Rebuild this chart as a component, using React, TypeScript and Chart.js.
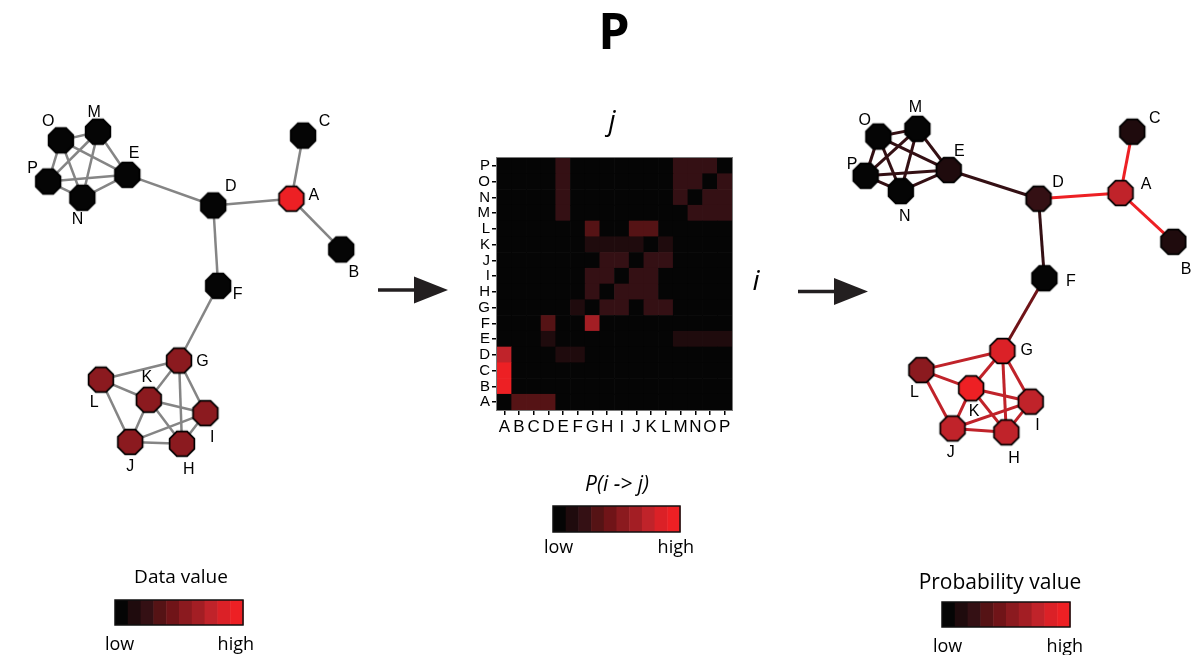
import React, { useEffect, useRef } from 'react';
import { Chart, registerables } from 'chart.js';
Chart.register(...registerables);

const nodeNames = ['A','B','C','D','E','F','G','H','I','J','K','L','M','N','O','P'];
const leftX = [284,335,296,204,116,209,169,172,196,119,138,89,86,70,48,35];
const leftY = [193,246,127,200,168,284,362,449,417,447,403,382,123,192,132,175];
const rightX = [1133,1187,1145,1049,957,1055,1012,1016,1041,961,980,929,925,908,885,872];
const rightY = [187,238,123,193,163,276,352,437,405,433,391,372,120,185,128,169];
const leftLabelX = [307,348,318,222,123,229,193,179,203,119,136,82,82,65,35,19];
const leftLabelY = [190,270,112,180,146,293,363,476,443,473,380,406,103,215,112,162];
const rightLabelX = [1159,1200,1168,1069,968,1082,1037,1024,1048,959,983,922,923,912,871,858];
const rightLabelY = [178,267,109,176,144,280,352,464,430,458,415,395,98,212,111,157];
const edges = ['OM','OP','ON','OE','MP','MN','ME','PN','PE','NE','ED','DA','AC','AB','DF','FG','GL','GK','GI','GH','LK','LJ','KJ','KI','KH','JH','JI','IH'];
// colour level (0 = low ... 9 = high)
const dataValueLevel = [9,0,0,0,0,0,5,5,5,5,5,5,0,0,0,0];
const probNodeLevel = [7,1,1,2,1,0,8,7,7,7,9,5,0,0,0,0];
const probEdgeLevel = [2,2,2,2,2,2,2,2,2,2,2,9,9,9,2,4,7,7,7,7,7,7,7,7,7,7,7,7];
const colorSteps = ['#050505','#1f0b0d','#341014','#551315','#701418','#8b1a1f','#a31e24','#c0232a','#db2127','#ed2024'];
// P(i -> j): rows i = A..P (bottom to top), columns j = A..P
const pMatrix = [
  [0,3,3,3,0,0,0,0,0,0,0,0,0,0,0,0],
  [9,0,0,0,0,0,0,0,0,0,0,0,0,0,0,0],
  [9,0,0,0,0,0,0,0,0,0,0,0,0,0,0,0],
  [7,0,0,0,1,1,0,0,0,0,0,0,0,0,0,0],
  [0,0,0,1,0,0,0,0,0,0,0,0,1,1,1,1],
  [0,0,0,3,0,0,6,0,0,0,0,0,0,0,0,0],
  [0,0,0,0,0,1,0,2,2,0,2,2,0,0,0,0],
  [0,0,0,0,0,0,2,0,2,2,2,0,0,0,0,0],
  [0,0,0,0,0,0,2,2,0,2,2,0,0,0,0,0],
  [0,0,0,0,0,0,0,2,2,0,2,2,0,0,0,0],
  [0,0,0,0,0,0,1,1,1,1,0,1,0,0,0,0],
  [0,0,0,0,0,0,3,0,0,3,3,0,0,0,0,0],
  [0,0,0,0,2,0,0,0,0,0,0,0,0,2,2,2],
  [0,0,0,0,2,0,0,0,0,0,0,0,2,0,2,2],
  [0,0,0,0,2,0,0,0,0,0,0,0,2,2,0,2],
  [0,0,0,0,2,0,0,0,0,0,0,0,2,2,2,0],
];

const SANS = '"Liberation Sans", Arial, sans-serif';
const HUM = '"Open Sans", "Noto Sans", sans-serif';

const octCache: Record<string, HTMLCanvasElement> = {};
function octagon(color: string): HTMLCanvasElement {
  if (octCache[color]) return octCache[color];
  const c = document.createElement('canvas');
  c.width = 32; c.height = 32;
  const g = c.getContext('2d')!;
  g.beginPath();
  for (let k = 0; k < 8; k++) {
    const a = Math.PI / 8 + (k * Math.PI) / 4;
    const px = 16 + 13.4 * Math.cos(a);
    const py = 16 + 13.4 * Math.sin(a);
    if (k === 0) g.moveTo(px, py); else g.lineTo(px, py);
  }
  g.closePath();
  g.fillStyle = color;
  g.fill();
  g.lineWidth = 1.7;
  g.strokeStyle = '#000';
  g.stroke();
  octCache[color] = c;
  return c;
}

function edgeDatasets(xs: number[], ys: number[], colorOf: (k: number) => string, width: number) {
  return edges.map((e, k) => {
    const a = nodeNames.indexOf(e[0]);
    const b = nodeNames.indexOf(e[1]);
    return {
      type: 'scatter' as const,
      showLine: true,
      data: [{ x: xs[a], y: ys[a] }, { x: xs[b], y: ys[b] }],
      borderColor: colorOf(k),
      borderWidth: width,
      pointRadius: 0,
      pointHitRadius: 0,
      order: 2,
    };
  });
}

const decorPlugin = {
  id: 'decor',
  afterDatasetsDraw(chart: any) {
    const { ctx } = chart;
    const xs = chart.scales.x, ys = chart.scales.y;
    ctx.save();
    ctx.fillStyle = '#000';
    ctx.font = '16px ' + SANS;
    ctx.textAlign = 'center';
    ctx.textBaseline = 'middle';
    nodeNames.forEach((n, i) => {
      ctx.fillText(n, xs.getPixelForValue(leftLabelX[i]), ys.getPixelForValue(leftLabelY[i]));
      ctx.fillText(n, xs.getPixelForValue(rightLabelX[i]), ys.getPixelForValue(rightLabelY[i]));
    });
    ctx.restore();
  },
  afterDraw(chart: any) {
    const { ctx } = chart;
    ctx.save();
    ctx.fillStyle = '#000';
    ctx.textAlign = 'center';
    ctx.textBaseline = 'alphabetic';
    ctx.font = 'bold 50px ' + HUM;
    ctx.fillText('P', 614, 49);
    ctx.font = 'italic 28px ' + HUM;
    ctx.fillText('j', 612, 130);
    ctx.fillText('i', 756, 290);
    const arrow = (x0: number, x1: number, y: number) => {
      ctx.strokeStyle = '#231f20';
      ctx.fillStyle = '#231f20';
      ctx.lineWidth = 3.5;
      ctx.beginPath();
      ctx.moveTo(x0, y);
      ctx.lineTo(x1 - 30, y);
      ctx.stroke();
      ctx.beginPath();
      ctx.moveTo(x1 - 34, y - 13.5);
      ctx.lineTo(x1, y);
      ctx.lineTo(x1 - 34, y + 13.5);
      ctx.closePath();
      ctx.fill();
    };
    arrow(378, 448, 290);
    arrow(798, 868, 291.5);
    const bar = (x0: number, x1: number, y0: number, y1: number, title: string, titleFont: string, tx: number, ty: number, lowX: number, highX: number, lhY: number) => {
      const w = (x1 - x0) / colorSteps.length;
      colorSteps.forEach((c, k) => {
        ctx.fillStyle = c;
        ctx.fillRect(x0 + k * w, y0, w + 0.5, y1 - y0);
      });
      ctx.strokeStyle = '#111';
      ctx.lineWidth = 1.5;
      ctx.strokeRect(x0, y0, x1 - x0, y1 - y0);
      ctx.fillStyle = '#000';
      ctx.font = titleFont;
      ctx.textAlign = 'center';
      ctx.fillText(title, tx, ty);
      ctx.font = '18px ' + HUM;
      ctx.textAlign = 'left';
      ctx.fillText('low', lowX, lhY);
      ctx.textAlign = 'right';
      ctx.fillText('high', highX, lhY);
    };
    bar(115, 243, 600, 625, 'Data value', '19px ' + HUM, 181, 583, 105, 254, 650);
    bar(553, 680, 506, 532, 'P(i -> j)', 'italic 21px ' + HUM, 617, 491, 544, 694, 553);
    bar(942, 1070, 602, 627, 'Probability value', '21px ' + HUM, 1000, 589, 933, 1083, 652);
    ctx.restore();
  },
};

const framePlugin = {
  id: 'frame',
  afterDraw(chart: any) {
    const { ctx, chartArea: a } = chart;
    ctx.save();
    ctx.strokeStyle = '#7a7a7a';
    ctx.lineWidth = 1;
    ctx.strokeRect(a.left - 0.5, a.top - 0.5, a.right - a.left + 1, a.bottom - a.top + 1);
    ctx.restore();
  },
};

export default function App() {
  const netRef = useRef<HTMLCanvasElement>(null);
  const hmRef = useRef<HTMLCanvasElement>(null);

  useEffect(() => {
    document.body.style.margin = '0';
    const nodesLeft = {
      type: 'scatter' as const,
      data: nodeNames.map((_, i) => ({ x: leftX[i], y: leftY[i] })),
      pointStyle: nodeNames.map((_, i) => octagon(colorSteps[dataValueLevel[i]])),
      pointRadius: 13,
      order: 0,
    };
    const nodesRight = {
      type: 'scatter' as const,
      data: nodeNames.map((_, i) => ({ x: rightX[i], y: rightY[i] })),
      pointStyle: nodeNames.map((_, i) => octagon(colorSteps[probNodeLevel[i]])),
      pointRadius: 13,
      order: 0,
    };
    const net = new Chart(netRef.current!, {
      type: 'scatter',
      data: {
        datasets: [
          nodesLeft,
          nodesRight,
          ...edgeDatasets(leftX, leftY, () => '#858585', 2.5),
          ...edgeDatasets(rightX, rightY, (k) => colorSteps[probEdgeLevel[k]], 3),
        ] as any,
      },
      options: {
        responsive: false,
        animation: false,
        events: [],
        layout: { padding: 0 },
        plugins: { legend: { display: false }, tooltip: { enabled: false } },
        scales: {
          x: { type: 'linear', min: 0, max: 1201, display: false },
          y: { type: 'linear', min: 0, max: 655, reverse: true, display: false },
        },
      },
      plugins: [decorPlugin],
    });

    const hm = new Chart(hmRef.current!, {
      type: 'bar',
      data: {
        labels: nodeNames,
        datasets: pMatrix.map((row, r) => ({
          label: nodeNames[r],
          data: nodeNames.map(() => 1),
          backgroundColor: row.map((l) => colorSteps[l]),
          borderWidth: 0,
          barPercentage: 1,
          categoryPercentage: 1,
          stack: 's',
        })),
      },
      options: {
        responsive: false,
        animation: false,
        events: [],
        layout: { padding: { left: 7, right: 18, top: 58, bottom: 5 } },
        plugins: { legend: { display: false }, tooltip: { enabled: false } },
        scales: {
          x: {
            stacked: true,
            grid: { offset: false, drawOnChartArea: false, tickLength: 5, color: '#000', lineWidth: 1.5 },
            border: { display: false },
            ticks: { font: { family: SANS, size: 17 }, color: '#000', padding: 2, maxRotation: 0, autoSkip: false },
            afterFit: (s: any) => { s.height = 30; },
          },
          y: {
            stacked: true,
            min: 0,
            max: 16,
            afterBuildTicks: (ax: any) => { ax.ticks = nodeNames.map((_, i) => ({ value: i + 0.5 })); },
            grid: { drawOnChartArea: false, tickLength: 5, color: '#000', lineWidth: 1.5 },
            border: { display: false },
            ticks: {
              font: { family: SANS, size: 15 },
              color: '#000',
              padding: 2,
              autoSkip: false,
              callback: (v: any) => nodeNames[Math.floor(Number(v))],
            },
            afterFit: (s: any) => { s.width = 30; },
          },
        },
      } as any,
      plugins: [framePlugin],
    });

    return () => { net.destroy(); hm.destroy(); };
  }, []);

  return (
    <div style={{ position: 'relative', width: 1201, height: 655, overflow: 'hidden', background: '#fff' }}>
      <canvas ref={netRef} width={1201} height={655} style={{ position: 'absolute', left: 0, top: 0 }} />
      <canvas ref={hmRef} width={290} height={345} style={{ position: 'absolute', left: 460, top: 100 }} />
    </div>
  );
}
